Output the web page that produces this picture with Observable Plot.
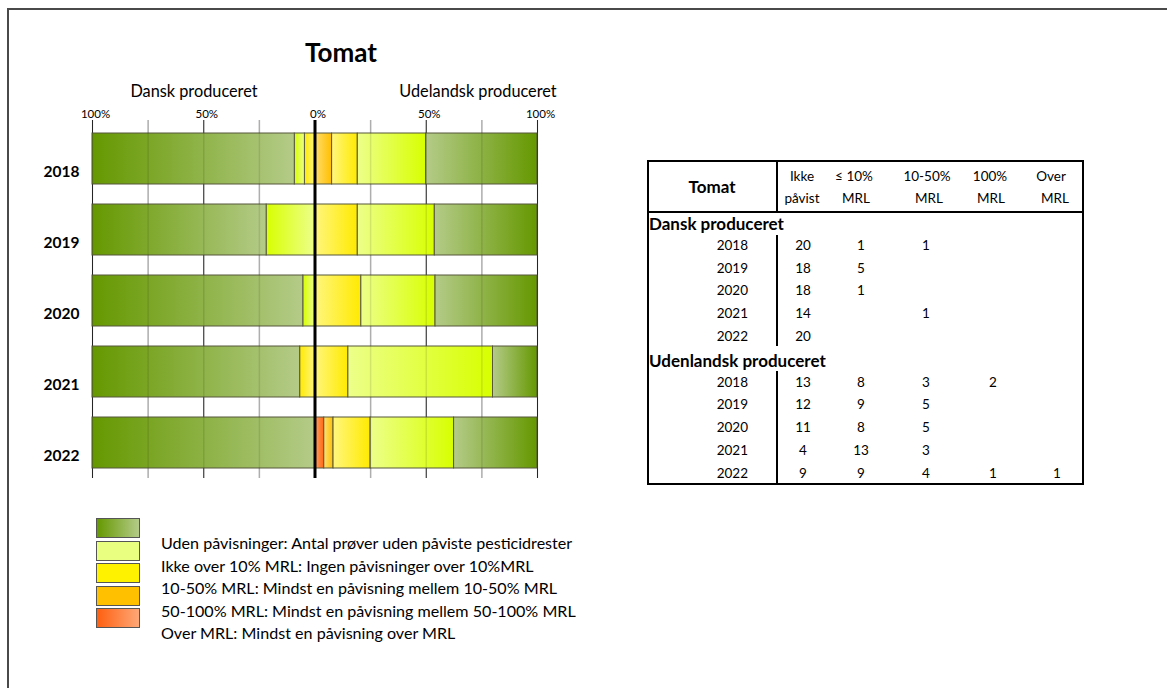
<!DOCTYPE html>
<html><head><meta charset="utf-8">
<script src="https://cdn.jsdelivr.net/npm/d3@7"></script>
<script src="https://cdn.jsdelivr.net/npm/@observablehq/plot@0.6"></script>
<style>
body{margin:0;width:1167px;height:688px;overflow:hidden;background:#fff;font-family:Lato,sans-serif;color:#000;position:relative}
.t{position:absolute;white-space:nowrap;line-height:1}
.c{transform:translate(-50%,-50%)}
.l{transform:translate(0,-50%)}
.r{transform:translate(-100%,-50%)}
.sw{position:absolute;width:42px;height:18px;border:1px solid #555}
.ln{position:absolute;background:#000}
</style></head><body>
<div style="position:absolute;left:7px;top:8px;width:1300px;height:800px;border-left:2px solid #4a4a4a;border-top:2px solid #4a4a4a"></div>
<div id="chart" style="position:absolute;left:0;top:0"></div>
<div id="overlay"></div>
<script>
// ---- data ----
const years = ["2018","2019","2020","2021","2022"];
const categories = ["Ikke påvist","≤ 10% MRL","10-50% MRL","100% MRL","Over MRL"];
const danskIkke  = [20,18,18,14,20];
const danskLe10  = [1,5,1,0,0];
const dansk1050  = [1,0,0,1,0];
const dansk100   = [0,0,0,0,0];
const danskOver  = [0,0,0,0,0];
const udlIkke    = [13,12,11,4,9];
const udlLe10    = [8,9,8,13,9];
const udl1050    = [3,5,5,3,4];
const udl100     = [2,0,0,0,1];
const udlOver    = [0,0,0,0,1];
const tickValues = [-100,-50,0,50,100];
const minorTicks = [-75,-25,25,75];
const majorTicks = [-100,-50,50,100];
const legendTexts = [
  "Uden påvisninger: Antal prøver uden påviste pesticidrester",
  "Ikke over 10% MRL: Ingen påvisninger over 10%MRL",
  "10-50% MRL: Mindst en påvisning mellem 10-50% MRL",
  "50-100% MRL: Mindst en påvisning mellem 50-100% MRL",
  "Over MRL:  Mindst en påvisning over MRL"
];
const header1 = ["Ikke","≤ 10%","10-50%","100%","Over"];
const header2 = ["påvist","MRL","MRL","MRL","MRL"];

// ---- styles ----
const catKeys = ["ikke","le10","m1050","m100","over"];
const gradColors = { // [inner(light), outer(saturated)]
  ikke:  ["#B4CB88","#659800"],
  le10:  ["#EDFF8A","#D8FF00"],
  m1050: ["#FFF67E","#FFEA00"],
  m100:  ["#FFDF70","#FFBF00"],
  over:  ["#FFA466","#FF6814"]
};

const dansk = [danskIkke,danskLe10,dansk1050,dansk100,danskOver];
const udl = [udlIkke,udlLe10,udl1050,udl100,udlOver];
const rows = [];
years.forEach((y,i)=>{
  const td = d3.sum(dansk, a=>a[i]), tu = d3.sum(udl, a=>a[i]);
  [4,3,2,1,0].forEach((c,rank)=>{
    if (dansk[c][i] > 0) rows.push({year:y, v:-dansk[c][i]/td*100, rank, grad:`url(#g-${catKeys[c]}-L)`});
    if (udl[c][i] > 0) rows.push({year:y, v:udl[c][i]/tu*100, rank, grad:`url(#g-${catKeys[c]}-R)`});
  });
});

const chart = Plot.plot({
  width: 600, height: 490,
  marginLeft: 92, marginRight: 63, marginTop: 120, marginBottom: 12,
  style: {fontFamily: "Lato, sans-serif", color: "#000", background: "transparent", overflow: "visible"},
  x: {domain: [-100,100], axis: null, label: null},
  y: {domain: years, paddingInner: 0.285, paddingOuter: 0.132, align: 0.58, axis: null, label: null},
  color: {type: "identity"},
  marks: [
    Plot.ruleX(minorTicks, {stroke: "#c2c2c2", strokeWidth: 1.5}),
    Plot.ruleX(majorTicks, {stroke: "#2a2a2a", strokeWidth: 1}),
    Plot.barX(rows, Plot.stackX({x: "v", y: "year", order: "rank", fill: "grad", stroke: "#57573c", strokeWidth: 1, inset: 0})),
    Plot.ruleX([...minorTicks, ...majorTicks], {stroke: "#000", strokeOpacity: 0.1, strokeWidth: 1.5}),
    Plot.ruleX([0], {stroke: "#000", strokeWidth: 3}),
    Plot.axisX({anchor: "top", ticks: tickValues, tickSize: 0, tickPadding: 3, tickFormat: d => Math.abs(d) + "%", fontSize: 11.5, dx: 3, label: null}),
    Plot.axisY({tickSize: 0, tickPadding: 0, fontSize: 15.5, fontWeight: "bold", dx: -13, dy: 13, label: null})
  ]
});
const defs = d3.select(chart).insert("defs", ":first-child");
catKeys.forEach(k=>{
  const [inner, outer] = gradColors[k];
  [["L", outer, inner], ["R", inner, outer]].forEach(([side, a, b])=>{
    const g = defs.append("linearGradient").attr("id", `g-${k}-${side}`)
      .attr("x1",0).attr("x2",1).attr("y1",0).attr("y2",0);
    g.append("stop").attr("offset",0).attr("stop-color",a);
    g.append("stop").attr("offset",1).attr("stop-color",b);
  });
});
document.getElementById("chart").appendChild(chart);

// ---- overlay text ----
const ov = document.getElementById("overlay");
function txt(s, x, y, cls, style="") {
  const d = document.createElement("div");
  d.className = "t " + cls; d.textContent = s;
  d.style.cssText = `left:${x}px;top:${y}px;` + style;
  ov.appendChild(d); return d;
}
function line(x, y, w, h) {
  const d = document.createElement("div");
  d.className = "ln"; d.style.cssText = `left:${x}px;top:${y}px;width:${w}px;height:${h}px`;
  ov.appendChild(d);
}
txt("Tomat", 341, 52, "c", "font-size:26px;font-weight:bold");
txt("Dansk produceret", 194, 91, "c", "font-size:16.3px");
txt("Udelandsk produceret", 478, 91, "c", "font-size:16.3px");

// legend
const swFills = [
  `linear-gradient(to right, ${gradColors.ikke[1]}, ${gradColors.ikke[0]})`,
  "#E9FF80", "#FFF200", "#FFC000",
  `linear-gradient(to right, #FF6010, #FFA877)`
];
swFills.forEach((f,i)=>{
  const d = document.createElement("div");
  d.className = "sw"; d.style.cssText = `left:96px;top:${518 + i*22.6}px;background:${f}`;
  ov.appendChild(d);
});
legendTexts.forEach((s,i)=> txt(s, 161, 543 + i*22.5, "l", "font-size:16.1px"));

// table
const TL = 647, TR = 1082;
line(TL,160,TR-TL+1.5,1.5); line(TL,483,TR-TL+1.5,1.5); line(TL,160,1.5,324); line(TR,160,1.5,324);
line(TL,211,TR-TL+1.5,1.5);
line(776,160,2,51); line(776,235,2,111); line(776,371,2,113);
txt("Tomat", 712, 186, "c", "font-size:17px;font-weight:bold");
const h1x = [802, 854, 927, 990, 1051];
const h2x = [802, 856, 929, 991, 1055];
header1.forEach((s,i)=> txt(s, h1x[i], 177, "c", "font-size:13.5px"));
header2.forEach((s,i)=> txt(s, h2x[i], 199, "c", "font-size:13.5px"));
const colX = [803, 861, 926, 993, 1057];
const rowStep = 22.8;
function group(label, arrs, y0) {
  txt(label, 649, y0, "l", "font-size:17px;font-weight:bold");
  years.forEach((yr,i)=>{
    const y = y0 + (i+1)*rowStep;
    txt(yr, 748, y, "r", "font-size:13.5px");
    arrs.forEach((a,c)=>{ if (a[i] > 0) txt(String(a[i]), colX[c], y, "c", "font-size:13.5px"); });
  });
}
group("Dansk produceret", dansk, 223);
group("Udenlandsk produceret", udl, 223 + 6*rowStep);
</script>
</body></html>
